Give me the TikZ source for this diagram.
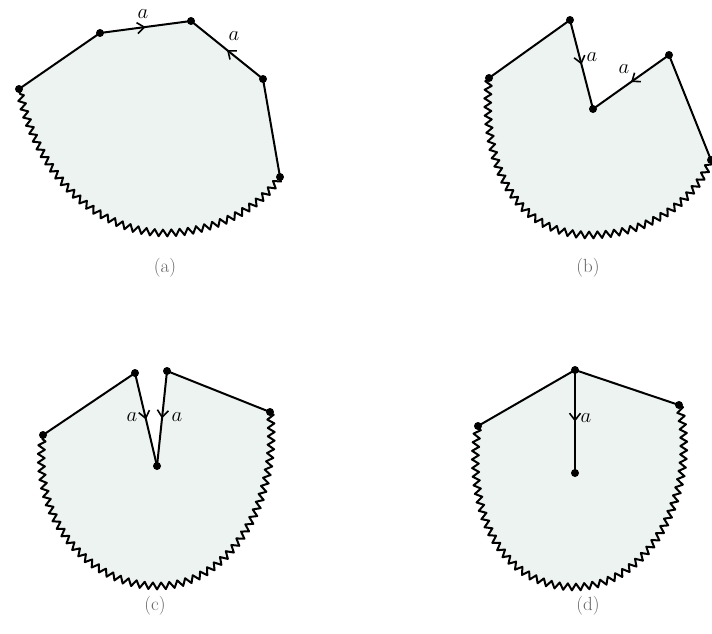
\documentclass[tikz,border=0pt]{standalone}
\usetikzlibrary{decorations.pathmorphing,decorations.markings,arrows.meta}
\definecolor{sheet}{RGB}{236,243,241}
\definecolor{captgray}{RGB}{100,100,100}
\begin{document}
\begin{tikzpicture}[x=1pt,y=-1pt,
  edge/.style={line width=2pt,line cap=round,line join=round},
  wavedec/.style={decoration={zigzag,segment length=8.5pt,amplitude=3.4pt,pre length=1pt,post length=1pt}},
  vdot/.style={circle,fill=black,inner sep=0pt,minimum size=8pt},
  midarrow/.style={postaction={decorate,decoration={markings,mark=at position 0.5 with {\arrow{Straight Barb[length=7pt,width=11pt,line width=1.6pt]}}}}},
  lbl/.style={font=\fontsize{21}{24}\selectfont,inner sep=0pt},
  capt/.style={font=\fontsize{19}{22}\selectfont,text=captgray,inner sep=0pt}]
\useasboundingbox (0,0) rectangle (712,634);

% ---------------- (a)
\coordinate (A1) at (19,89);
\coordinate (A2) at (100,33);
\coordinate (A3) at (191,21);
\coordinate (A4) at (263,79);
\coordinate (A5) at (280,177);
\coordinate (Ab) at (165,233);
\fill[sheet] decorate[wavedec]{(A5) .. controls (255,215) and (205,233) .. (Ab) .. controls (110,233) and (40,190) .. (A1)} -- (A2) -- (A3) -- (A4) -- cycle;
\draw[edge] decorate[wavedec]{(A5) .. controls (255,215) and (205,233) .. (Ab) .. controls (110,233) and (40,190) .. (A1)};
\draw[edge] (A1) -- (A2);
\draw[edge,midarrow] (A2) -- (A3);
\draw[edge,midarrow] (A4) -- (A3);
\draw[edge] (A4) -- (A5);
\foreach \p in {A1,A2,A3,A4,A5} \node[vdot] (d\p) at (\p) {};
\node[lbl] (la1) at (143,14) {$a$};
\node[lbl] (la2) at (234,36) {$a$};
\node[capt] (capa) at (165,268) {(a)};

% ---------------- (b)
\coordinate (B1) at (489,78);
\coordinate (B2) at (570,20);
\coordinate (B3) at (593,109);
\coordinate (B4) at (669,55);
\coordinate (B5) at (711,160);
\coordinate (Bb) at (590,235);
\fill[sheet] decorate[wavedec]{(B5) .. controls (690,210) and (640,235) .. (Bb) .. controls (520,235) and (480,170) .. (B1)} -- (B2) -- (B3) -- (B4) -- cycle;
\draw[edge] decorate[wavedec]{(B5) .. controls (690,210) and (640,235) .. (Bb) .. controls (520,235) and (480,170) .. (B1)};
\draw[edge] (B1) -- (B2);
\draw[edge,midarrow] (B2) -- (B3);
\draw[edge,midarrow] (B4) -- (B3);
\draw[edge] (B4) -- (B5);
\foreach \p in {B1,B2,B3,B4,B5} \node[vdot] (d\p) at (\p) {};
\node[lbl] (lb1) at (592,57) {$a$};
\node[lbl] (lb2) at (624,69) {$a$};
\node[capt] (capb) at (588,268) {(b)};

% ---------------- (c)
\coordinate (C1) at (43,435);
\coordinate (C2) at (135,373);
\coordinate (C3) at (167,371);
\coordinate (C4) at (270,412);
\coordinate (C5) at (157,466);
\coordinate (Cb) at (158,586);
\fill[sheet] decorate[wavedec]{(C4) .. controls (280,500) and (230,586) .. (Cb) .. controls (90,586) and (30,520) .. (C1)} -- (C2) -- (C5) -- (C3) -- cycle;
\draw[edge] decorate[wavedec]{(C4) .. controls (280,500) and (230,586) .. (Cb) .. controls (90,586) and (30,520) .. (C1)};
\draw[edge] (C1) -- (C2);
\draw[edge,midarrow] (C2) -- (C5);
\draw[edge,midarrow] (C3) -- (C5);
\draw[edge] (C3) -- (C4);
\foreach \p in {C1,C2,C3,C4,C5} \node[vdot] (d\p) at (\p) {};
\node[lbl] (lc1) at (132,417) {$a$};
\node[lbl] (lc2) at (177,417) {$a$};
\node[capt] (capc) at (155,606) {(c)};

% ---------------- (d)
\coordinate (D1) at (478,426);
\coordinate (D2) at (575,370);
\coordinate (D3) at (679,405);
\coordinate (D4) at (575,473);
\coordinate (Db) at (575,587);
\fill[sheet] decorate[wavedec]{(D3) .. controls (700,490) and (650,587) .. (Db) .. controls (500,587) and (465,510) .. (D1)} -- (D2) -- cycle;
\draw[edge] decorate[wavedec]{(D3) .. controls (700,490) and (650,587) .. (Db) .. controls (500,587) and (465,510) .. (D1)};
\draw[edge] (D1) -- (D2);
\draw[edge,midarrow] (D2) -- (D4);
\draw[edge] (D2) -- (D3);
\foreach \p in {D1,D2,D3,D4} \node[vdot] (d\p) at (\p) {};
\node[lbl] (ld1) at (586,418) {$a$};
\node[capt] (capd) at (588,606) {(d)};
\end{tikzpicture}
\end{document}
